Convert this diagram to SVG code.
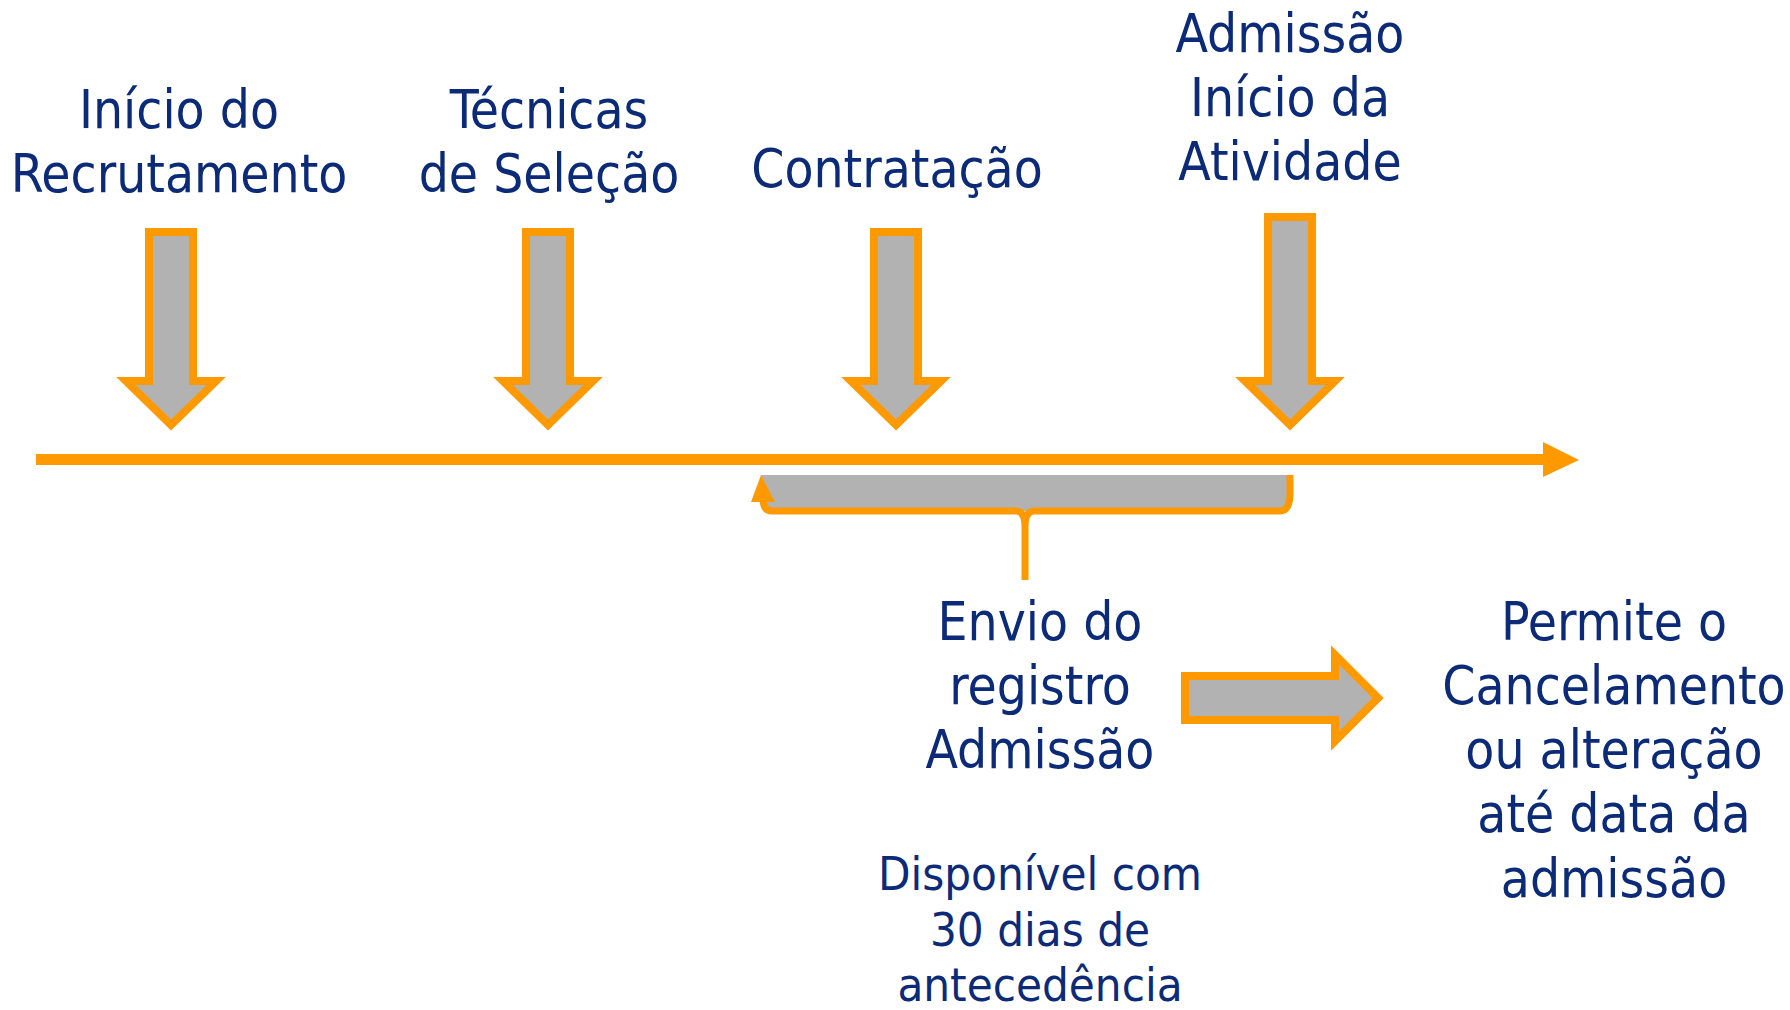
<svg xmlns="http://www.w3.org/2000/svg" xmlns:xlink="http://www.w3.org/1999/xlink" width="1790" height="1010" viewBox="0 0 1790 1010">
<style>
  text { font-family: "DejaVu Sans Condensed", "DejaVu Sans", sans-serif; font-stretch: condensed; fill: #0b2a78; text-anchor: middle; }
  .lbl { font-size: 52.8px; }
  .small { font-size: 47px; }
  .blk { fill: #b2b2b2; stroke: #ff9900; stroke-width: 8; stroke-linejoin: miter; }
  .orange { fill: #ff9900; }
  .ostroke { fill: none; stroke: #ff9900; stroke-width: 7; }
</style>
<defs>
  <path id="downArrow" d="M-22,232 L22,232 L22,381 L45,381 L0,425 L-45,381 L-22,381 Z"/>
</defs>
<rect width="1790" height="1010" fill="#ffffff"/>

<g id="connectors">
  <line x1="36" y1="459.5" x2="1546" y2="459.5" stroke="#ff9900" stroke-width="11"/>
  <polygon class="orange" points="1543,442 1579,460 1543,477"/>
</g>

<g id="arrow-inicio"><use xlink:href="#downArrow" href="#downArrow" class="blk" transform="translate(171,0)"/></g>
<g id="arrow-tecnicas"><use xlink:href="#downArrow" href="#downArrow" class="blk" transform="translate(548,0)"/></g>
<g id="arrow-contratacao"><use xlink:href="#downArrow" href="#downArrow" class="blk" transform="translate(896,0)"/></g>
<g id="arrow-admissao"><path class="blk" d="M1268,217 L1312,217 L1312,381 L1335,381 L1290,425 L1245,381 L1268,381 Z"/></g>

<g id="brace">
  <path d="M761,475 L1293,475 L1292,503 Q1291,511 1283,511 L771,511 Q765,511 764,503 Z" fill="#b2b2b2"/>
  <path class="ostroke" d="M763,498 Q763,511 772,511 L1016,511 Q1025,511 1025,527 L1025,580 M1025,527 Q1025,511 1034,511 L1280,511 Q1289,511 1290,496 L1290,475"/>
  <polygon class="orange" points="761,475 775,502 751,502"/>
</g>

<g id="arrow-right"><path class="blk" d="M1185,676 L1335,676 L1335,655 L1378,698 L1335,741 L1335,720 L1185,720 Z"/></g>

<g id="label-inicio">
  <text class="lbl" x="179" y="128">Início do</text>
  <text class="lbl" x="179" y="192">Recrutamento</text>
</g>
<g id="label-tecnicas">
  <text class="lbl" x="549" y="128">Técnicas</text>
  <text class="lbl" x="549" y="192">de Seleção</text>
</g>
<g id="label-contratacao">
  <text class="lbl" x="897" y="187">Contratação</text>
</g>
<g id="label-admissao">
  <text class="lbl" x="1290" y="52">Admissão</text>
  <text class="lbl" x="1290" y="116">Início da</text>
  <text class="lbl" x="1290" y="180">Atividade</text>
</g>
<g id="label-envio">
  <text class="lbl" x="1040" y="640">Envio do</text>
  <text class="lbl" x="1040" y="704">registro</text>
  <text class="lbl" x="1040" y="768">Admissão</text>
</g>
<g id="label-disponivel">
  <text class="small" x="1040" y="890">Disponível com</text>
  <text class="small" x="1040" y="946">30 dias de</text>
  <text class="small" x="1040" y="1001">antecedência</text>
</g>
<g id="label-permite">
  <text class="lbl" x="1614" y="640">Permite o</text>
  <text class="lbl" x="1614" y="704">Cancelamento</text>
  <text class="lbl" x="1614" y="768">ou alteração</text>
  <text class="lbl" x="1614" y="832">até data da</text>
  <text class="lbl" x="1614" y="897">admissão</text>
</g>
</svg>
